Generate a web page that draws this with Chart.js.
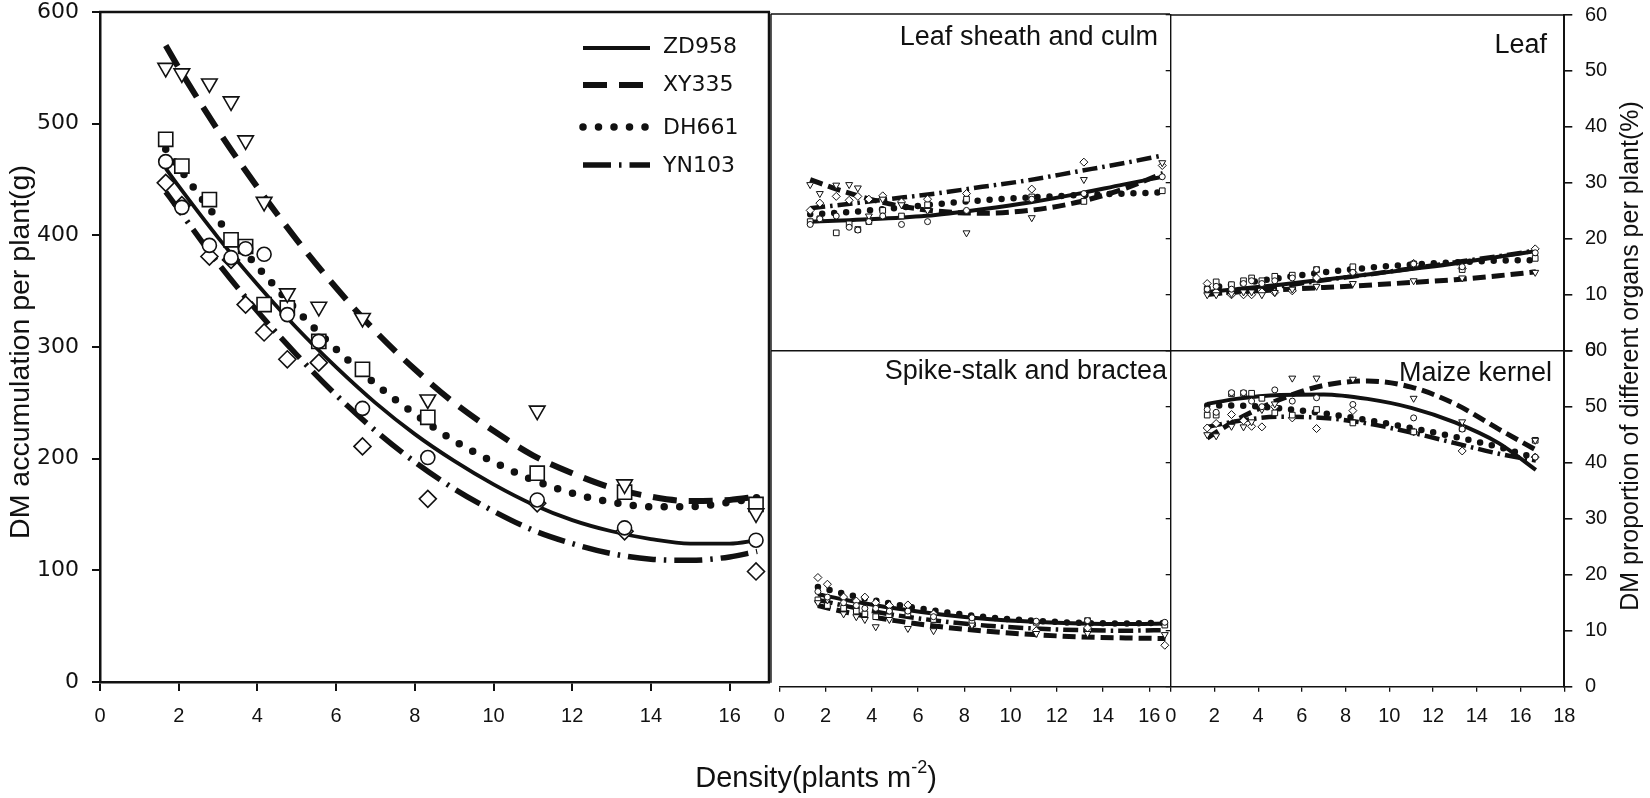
<!DOCTYPE html>
<html>
<head>
<meta charset="utf-8">
<script src="https://cdn.jsdelivr.net/npm/chart.js@4.4.0/dist/chart.umd.min.js"></script>
<style>
  html, body { margin: 0; padding: 0; background: #fff; }
  #wrap { position: relative; width: 1650px; height: 798px; overflow: hidden; background: #fff; }
  #wrap canvas { position: absolute; left: 0; top: 0; width: 1650px; height: 798px; }
</style>
</head>
<body>
<div id="wrap">
  <canvas id="cMain" width="1650" height="798"></canvas>
  <canvas id="cSheath" width="1650" height="798"></canvas>
  <canvas id="cSpike" width="1650" height="798"></canvas>
  <canvas id="cLeaf" width="1650" height="798"></canvas>
  <canvas id="cKernel" width="1650" height="798"></canvas>
</div>
<script>
// ---------------- DATA ----------------
const varieties = ['ZD958', 'XY335', 'DH661', 'YN103'];
const density = [1.67, 2.08, 2.78, 3.33, 3.70, 4.17, 4.76, 5.56, 6.67, 8.33, 11.11, 13.33, 16.67];

// DM accumulation per plant (g)
const dmZD958 = [466, 425, 391, 380, 388, 383, 329, 305, 245, 201, 163, 138, 127];
const dmXY335 = [550, 545, 536, 520, 485, 430, 348, 336, 326, 253, 243, 177, 151];
const dmDH661 = [486, 462, 432, 396, 390, 338, 335, 305, 280, 237, 187, 170, 159];
const dmYN103 = [447, 427, 381, 378, 338, 313, 289, 286, 211, 164, 160, 135, 99];

// fitted curves
const fitX = [1.67, 2, 3, 4, 5, 6, 7, 8, 9, 10, 11, 12, 13, 14, 15, 16, 16.7];
const fitDmZD958 = [460, 444, 398, 356, 317, 282, 250, 222, 198, 177, 159, 145, 135, 128, 124, 124, 127];
const fitDmXY335 = [570, 550, 494, 443, 396, 353, 314, 280, 250, 225, 203, 187, 174, 166, 162, 163, 166];
const fitDmDH661 = [477, 461, 414, 372, 333, 298, 267, 240, 216, 197, 181, 169, 161, 157, 157, 161, 165];
const fitDmYN103 = [439, 423, 375, 332, 293, 257, 225, 197, 173, 153, 136, 124, 115, 110, 109, 112, 117];

// DM proportion of organs (%)
const sheathZD958 = [22.5, 23.5, 24, 22, 21.5, 23, 24, 22.5, 23, 25, 27, 28, 31];
const sheathXY335 = [29.6, 28, 29.5, 29.6, 29, 24, 27, 26, 25, 21, 23.7, 30.5, 33.5];
const sheathDH661 = [23, 23.5, 21, 22.6, 21.6, 23, 25, 24, 26, 27, 27.4, 26.6, 28.5];
const sheathYN103 = [25, 26.3, 27.5, 26.8, 27.5, 27, 27.6, 26.5, 27, 28, 28.8, 33.6, 33];

const leafZD958 = [11, 11.5, 11, 12, 12.5, 12, 12.5, 13, 14.5, 14, 15.5, 15, 17.5];
const leafXY335 = [10, 10, 10.2, 10.5, 10.5, 10, 10.4, 11, 11.5, 12, 12.5, 13, 14];
const leafDH661 = [11, 12.3, 11.8, 12.5, 13, 12.5, 13.3, 13.5, 14.5, 15, 15.5, 14.5, 16.5];
const leafYN103 = [12, 10.5, 10, 10, 10, 10.5, 10.4, 10.7, 13, 14, 15.6, 14.7, 18.2];

const spikeZD958 = [17, 16, 15, 14.5, 14, 14, 13.5, 13.5, 12.5, 12.3, 11.7, 11.8, 11.5];
const spikeXY335 = [15, 15.5, 13, 12.5, 12, 10.7, 12, 10.4, 10, 11, 9.5, 9.5, 9.3];
const spikeDH661 = [15.5, 14.5, 14, 13.5, 13, 12.5, 13.5, 13, 12, 11.5, 11.5, 11.8, 11];
const spikeYN103 = [19.5, 18.3, 16, 15.3, 16, 15, 14.5, 14.6, 13, 11, 10, 10.5, 7.4];

const kernelZD958 = [49.5, 49, 52.5, 52.5, 51, 50, 53, 51, 51.6, 50.4, 48, 46, 41];
const kernelXY335 = [45, 44.8, 46.5, 46.4, 47.3, 49.5, 50.5, 55.1, 55.1, 54.9, 51.5, 47.3, 44];
const kernelDH661 = [48.5, 48.5, 52.3, 52.4, 52.4, 51.5, 48.9, 48.5, 49.5, 47.1, 45.5, 46.1, 44];
const kernelYN103 = [46.2, 47, 48.6, 47.5, 46.5, 46.4, 50, 48, 46.1, 49.3, 45.5, 42.1, 41];

const fitXs = [1.67, 3, 5, 7, 9, 11, 13, 15, 16.7];
const fitSheathZD958 = [23.0, 23.2, 23.6, 24.2, 25.2, 26.4, 27.9, 29.6, 31.0];
const fitSheathXY335 = [30.5, 28.5, 26.2, 24.9, 24.5, 25.0, 26.4, 28.8, 31.6];
const fitSheathDH661 = [24.3, 24.6, 25.3, 26.1, 26.8, 27.3, 27.7, 28.0, 28.2];
const fitSheathYN103 = [25.4, 26.0, 27.0, 28.0, 29.2, 30.4, 31.9, 33.4, 34.8];
const fitLeafZD958 = [10.5, 11.0, 11.8, 12.7, 13.6, 14.6, 15.6, 16.8, 17.8];
const fitLeafXY335 = [10.2, 10.5, 10.9, 11.3, 11.7, 12.2, 12.7, 13.4, 14.1];
const fitLeafDH661 = [11.2, 11.9, 13.0, 14.0, 14.8, 15.4, 15.8, 16.1, 16.2];
const fitLeafYN103 = [10.0, 10.5, 11.5, 12.6, 13.6, 14.7, 15.8, 16.9, 17.9];
const fitSpikeZD958 = [16.5, 15.4, 14.0, 12.9, 12.1, 11.6, 11.3, 11.2, 11.3];
const fitSpikeXY335 = [14.5, 13.2, 11.8, 10.7, 9.9, 9.3, 8.9, 8.7, 8.6];
const fitSpikeDH661 = [17.8, 16.4, 14.7, 13.4, 12.4, 11.8, 11.4, 11.3, 11.4];
const fitSpikeYN103 = [15.5, 14.3, 12.8, 11.7, 10.9, 10.4, 10.1, 10.0, 10.1];
const fitKernelZD958 = [50.5, 51.4, 52.1, 52.2, 51.4, 49.8, 47.2, 43.5, 38.7];
const fitKernelXY335 = [44.4, 47.6, 51.3, 53.8, 54.6, 53.5, 50.5, 46.0, 42.3];
const fitKernelDH661 = [50.2, 50.2, 49.7, 48.8, 47.6, 46.2, 44.6, 42.8, 40.8];
const fitKernelYN103 = [46.4, 47.4, 48.2, 48.0, 47.0, 45.4, 43.5, 41.6, 40.4];

// tick labels
const mainXTicks = [0, 2, 4, 6, 8, 10, 12, 14, 16];
const mainYTicks = [0, 100, 200, 300, 400, 500, 600];
const midXTicks = [0, 2, 4, 6, 8, 10, 12, 14, 16];
const rightXTicks = [0, 2, 4, 6, 8, 10, 12, 14, 16, 18];
const pctTicks = [0, 10, 20, 30, 40, 50, 60];

// texts
const mainYTitle = 'DM accumulation per plant(g)';
const rightYTitle = 'DM proportion of different organs per plant(%)';
const xTitleParts = ['Density(plants m', '-2', ')'];
const panelTitles = ['Leaf sheath and culm', 'Leaf', 'Spike-stalk and bractea', 'Maize kernel'];

// ---------------- STYLE ----------------
const WIDE = "'DejaVu Sans', sans-serif";
const ARIAL = "'Liberation Sans', Arial, sans-serif";
const INK = '#111';
const markerStyles = [
  { style: 'circle', rot: 0 },
  { style: 'triangle', rot: 180 },
  { style: 'rect', rot: 0 },
  { style: 'rectRot', rot: 0 }
];
const bigRadius = [7, 9, 10, 8.5];
const smallRadius = [3, 4, 4, 4];
const bigLines = [
  { width: 3.8, dash: [], cap: 'butt' },
  { width: 6, dash: [24, 12], cap: 'butt' },
  { width: 7.5, dash: [0, 15.5], cap: 'round' },
  { width: 5.5, dash: [28, 8, 2.5, 8], cap: 'butt' }
];
const smallLines = [
  { width: 4, dash: [], cap: 'butt' },
  { width: 5, dash: [13, 6], cap: 'butt' },
  { width: 6.5, dash: [0, 12], cap: 'round' },
  { width: 4.5, dash: [15, 5, 2.5, 5], cap: 'butt' }
];

function markerDS(i, values, radius, bw) {
  return {
    label: varieties[i],
    data: density.map((x, k) => ({ x: x, y: values[k] })),
    showLine: false,
    pointStyle: markerStyles[i].style,
    pointRotation: markerStyles[i].rot,
    pointRadius: radius[i],
    pointHoverRadius: radius[i],
    pointBackgroundColor: '#fff',
    pointBorderColor: INK,
    pointBorderWidth: bw
  };
}
function fitDS(i, xs, values, lines) {
  const s = lines[i];
  return {
    label: varieties[i] + ' fit',
    data: xs.map((x, k) => ({ x: x, y: values[k] })),
    showLine: true,
    pointRadius: 0,
    pointHoverRadius: 0,
    borderColor: INK,
    borderWidth: s.width,
    borderDash: s.dash,
    borderCapStyle: s.cap,
    cubicInterpolationMode: 'monotone',
    fill: false
  };
}
function panelDatasets(series, fits, xs, radius, lines, bw) {
  const ds = [];
  series.forEach((v, i) => ds.push(markerDS(i, v, radius, bw)));
  fits.forEach((v, i) => ds.push(fitDS(i, xs, v, lines)));
  return ds;
}

function zeroPad(s) { s.paddingTop = 0; s.paddingBottom = 0; s.paddingLeft = 0; s.paddingRight = 0; }

function axis(o) {
  return {
    type: 'linear',
    display: o.display !== false,
    position: o.position,
    min: o.min, max: o.max,
    afterBuildTicks: o.ticks ? (s => { s.ticks = o.ticks.map(v => ({ value: v })); }) : undefined,
    afterFit: s => {
      if (o.size !== undefined) {
        if (s.isHorizontal()) s.height = o.size; else s.width = o.size;
      }
      zeroPad(s);
    },
    ticks: {
      display: o.labels !== false,
      font: { family: o.family || ARIAL, size: o.fontSize || 20 },
      color: INK,
      padding: o.pad || 0,
      maxRotation: 0, minRotation: 0,
      autoSkip: false
    },
    grid: {
      display: true,
      drawOnChartArea: false,
      drawTicks: true,
      tickLength: o.tick || 5,
      color: INK,
      lineWidth: o.tickW || 1.3
    },
    border: { display: o.border !== false, color: INK, width: o.borderW || 1.3 }
  };
}

// decoration plugin: frame lines + texts + legend
const decor = {
  id: 'decor',
  afterDraw(chart, args, opts) {
    const ctx = chart.ctx;
    const ca = chart.chartArea;
    ctx.save();
    (opts.lines || []).forEach(fn => {
      const l = fn(ca);
      ctx.beginPath();
      ctx.setLineDash([]);
      ctx.strokeStyle = INK;
      ctx.lineWidth = l.w;
      ctx.moveTo(l.x1, l.y1);
      ctx.lineTo(l.x2, l.y2);
      ctx.stroke();
    });
    (opts.texts || []).forEach(t => {
      ctx.save();
      ctx.fillStyle = INK;
      ctx.font = t.size + 'px ' + (t.family || ARIAL);
      ctx.textBaseline = 'middle';
      ctx.textAlign = t.align || 'center';
      ctx.translate(t.x, t.y);
      if (t.rot) ctx.rotate(t.rot);
      ctx.fillText(t.text, 0, 0);
      ctx.restore();
    });
    if (opts.xTitle) {
      const t = opts.xTitle;
      ctx.fillStyle = INK;
      ctx.textBaseline = 'middle';
      ctx.textAlign = 'left';
      ctx.font = t.size + 'px ' + ARIAL;
      const w0 = ctx.measureText(t.parts[0]).width;
      const w2 = ctx.measureText(t.parts[2]).width;
      ctx.font = t.supSize + 'px ' + ARIAL;
      const w1 = ctx.measureText(t.parts[1]).width;
      let x = t.cx - (w0 + w1 + w2) / 2;
      ctx.font = t.size + 'px ' + ARIAL;
      ctx.fillText(t.parts[0], x, t.cy); x += w0;
      ctx.font = t.supSize + 'px ' + ARIAL;
      ctx.fillText(t.parts[1], x, t.cy - t.raise); x += w1;
      ctx.font = t.size + 'px ' + ARIAL;
      ctx.fillText(t.parts[2], x, t.cy);
    }
    if (opts.legend) {
      const L = opts.legend;
      const fits = chart.data.datasets.filter(d => d.showLine);
      fits.forEach((d, i) => {
        const y = L.rows[i];
        ctx.beginPath();
        ctx.strokeStyle = INK;
        ctx.lineWidth = d.borderWidth;
        ctx.setLineDash(d.borderDash || []);
        ctx.lineCap = d.borderCapStyle || 'butt';
        ctx.moveTo(L.x1, y);
        ctx.lineTo(L.x2, y);
        ctx.stroke();
        ctx.setLineDash([]);
        ctx.lineCap = 'butt';
        ctx.fillStyle = INK;
        ctx.font = L.size + 'px ' + WIDE;
        ctx.textAlign = 'left';
        ctx.textBaseline = 'middle';
        ctx.fillText(varieties[i], L.tx, L.textRows[i]);
      });
    }
    ctx.restore();
  }
};

function build(id, datasets, padding, scales, decorOpts) {
  return new Chart(document.getElementById(id), {
    type: 'scatter',
    data: { datasets: datasets },
    options: {
      responsive: false,
      maintainAspectRatio: false,
      animation: false,
      devicePixelRatio: 1,
      events: [],
      layout: { padding: padding },
      scales: scales,
      plugins: { legend: { display: false }, tooltip: { enabled: false }, decor: decorOpts }
    },
    plugins: [decor]
  });
}

// ---------------- MAIN PANEL ----------------
build('cMain',
  panelDatasets([dmZD958, dmXY335, dmDH661, dmYN103],
                [fitDmZD958, fitDmXY335, fitDmDH661, fitDmYN103], fitX, bigRadius, bigLines, 1.6),
  { left: 0, top: 12, right: 881, bottom: 0 },
  {
    x: axis({ position: 'bottom', min: 0, max: 17, ticks: mainXTicks, size: 116, fontSize: 20, tick: 9, pad: 13.7, tickW: 2, borderW: 2.5 }),
    y: axis({ position: 'left', min: 0, max: 600, ticks: mainYTicks, size: 100, family: WIDE, fontSize: 22, tick: 8, pad: 13, tickW: 2, borderW: 2.5 })
  },
  {
    lines: [
      ca => ({ x1: ca.left - 1, y1: ca.top, x2: ca.right + 1, y2: ca.top, w: 2.5 }),
      ca => ({ x1: ca.right, y1: ca.top, x2: ca.right, y2: ca.bottom + 1, w: 2.5 })
    ],
    texts: [
      { text: mainYTitle, x: 21, y: 352, size: 28.5, rot: -Math.PI / 2 },
      { text: rightYTitle, x: 1631, y: 356, size: 25, rot: -Math.PI / 2 }
    ],
    xTitle: { parts: xTitleParts, cx: 816, cy: 779, size: 29, supSize: 18, raise: 11 },
    legend: { x1: 583, x2: 650, rows: [48, 85, 127, 165], tx: 663, textRows: [47, 85, 128, 166], size: 22 }
  }
);

// ---------------- LEAF SHEATH AND CULM (middle top) ----------------
build('cSheath',
  panelDatasets([sheathZD958, sheathXY335, sheathDH661, sheathYN103],
                [fitSheathZD958, fitSheathXY335, fitSheathDH661, fitSheathYN103], fitXs, smallRadius, smallLines, 1),
  { left: 771, top: 14, right: 480, bottom: 447.3 },
  {
    x: axis({ display: false, position: 'bottom', min: 0, max: 17 }),
    y: axis({ display: false, position: 'left', min: 0, max: 60 })
  },
  {
    lines: [
      ca => ({ x1: ca.left, y1: ca.top, x2: ca.right, y2: ca.top, w: 1.4 }),
      ca => ({ x1: ca.left, y1: ca.top, x2: ca.left, y2: ca.bottom, w: 1.4 })
    ],
    texts: [{ text: panelTitles[0], x: 1158, y: 38, size: 27, align: 'right' }]
  }
);

// ---------------- SPIKE-STALK AND BRACTEA (middle bottom) ----------------
build('cSpike',
  panelDatasets([spikeZD958, spikeXY335, spikeDH661, spikeYN103],
                [fitSpikeZD958, fitSpikeXY335, fitSpikeDH661, fitSpikeYN103], fitXs, smallRadius, smallLines, 1),
  { left: 779.3, top: 350.7, right: 480, bottom: 0 },
  {
    x: axis({ position: 'bottom', min: 0, max: 16.895, ticks: midXTicks, size: 111.3, fontSize: 20, tick: 5, pad: 12.3, tickW: 1.3, borderW: 1.4 }),
    y: axis({ display: false, position: 'left', min: 0, max: 60 })
  },
  {
    lines: [
      ca => ({ x1: 771, y1: ca.top, x2: ca.right, y2: ca.top, w: 1.4 }),
      ca => ({ x1: 771, y1: ca.top, x2: 771, y2: ca.bottom - 4, w: 1.4 })
    ],
    texts: [{ text: panelTitles[2], x: 1167, y: 372, size: 27, align: 'right' }]
  }
);

// ---------------- LEAF (right top) ----------------
build('cLeaf',
  panelDatasets([leafZD958, leafXY335, leafDH661, leafYN103],
                [fitLeafZD958, fitLeafXY335, fitLeafDH661, fitLeafYN103], fitXs, smallRadius, smallLines, 1),
  { left: 1170.7, top: 15, right: 0, bottom: 447.3 },
  {
    x: axis({ display: false, position: 'bottom', min: 0, max: 18 }),
    y: axis({ position: 'left', min: 0, max: 60, ticks: pctTicks, size: 0, labels: false, tick: 5, tickW: 1.3, borderW: 1.4 }),
    y2: axis({ position: 'right', min: 0, max: 60, ticks: pctTicks, size: 85.7, fontSize: 20, tick: 8, pad: 12.7, tickW: 1.6, borderW: 2 })
  },
  {
    lines: [ca => ({ x1: ca.left, y1: ca.top, x2: ca.right, y2: ca.top, w: 1.4 })],
    texts: [{ text: panelTitles[1], x: 1547, y: 46, size: 27, align: 'right' }]
  }
);

// ---------------- MAIZE KERNEL (right bottom) ----------------
build('cKernel',
  panelDatasets([kernelZD958, kernelXY335, kernelDH661, kernelYN103],
                [fitKernelZD958, fitKernelXY335, fitKernelDH661, fitKernelYN103], fitXs, smallRadius, smallLines, 1),
  { left: 1170.7, top: 350.7, right: 0, bottom: 0 },
  {
    x: axis({ position: 'bottom', min: 0, max: 18, ticks: rightXTicks, size: 111.3, fontSize: 20, tick: 5, pad: 12.3, tickW: 1.3, borderW: 1.4 }),
    y: axis({ position: 'left', min: 0, max: 60, ticks: pctTicks, size: 0, labels: false, tick: 5, tickW: 1.3, borderW: 1.4 }),
    y2: axis({ position: 'right', min: 0, max: 60, ticks: pctTicks, size: 85.7, fontSize: 20, tick: 8, pad: 12.7, tickW: 1.6, borderW: 2 })
  },
  {
    lines: [ca => ({ x1: ca.left, y1: ca.top, x2: ca.right, y2: ca.top, w: 1.6 })],
    texts: [{ text: panelTitles[3], x: 1552, y: 374, size: 27, align: 'right' }]
  }
);
</script>
</body>
</html>
